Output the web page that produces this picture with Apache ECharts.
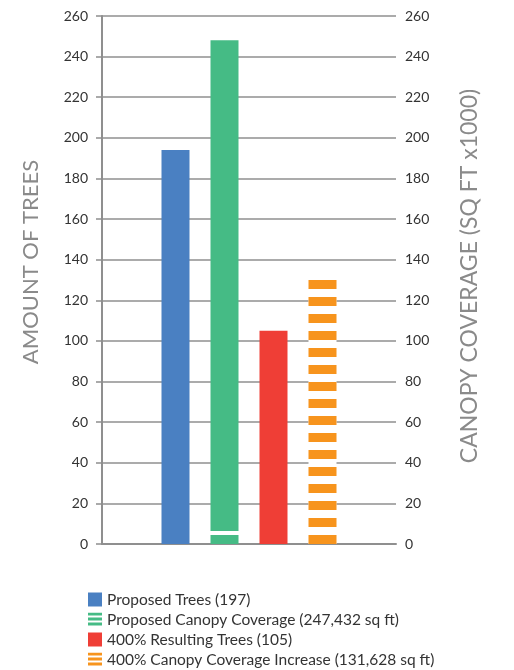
<!DOCTYPE html>
<html>
<head>
<meta charset="utf-8">
<script src="https://cdn.jsdelivr.net/npm/echarts@6/dist/echarts.min.js"></script>
<style>
  html, body { margin: 0; padding: 0; background: #fff; }
  #chart { width: 514px; height: 670px; }
</style>
</head>
<body>
<div id="chart"></div>
<script>
// data
var slots = ['', 'trees', 'canopy', 'trees400', 'canopy400', ''];
var seriesNames = [
    'Proposed Trees (197)',
    'Proposed Canopy Coverage (247,432 sq ft)',
    '400% Resulting Trees (105)',
    '400% Canopy Coverage Increase (131,628 sq ft)'
];
var proposedTrees = [null, 194, null, null, null, null];
var proposedCanopy = [null, null, 248, null, null, null];
var resultingTrees = [null, null, null, 105, null, null];
var canopyIncrease = [null, null, null, null, 132, null];
var tickValues = [0, 260, 20]; // min, max, step

var chart = echarts.init(document.getElementById('chart'));

var axisGray = '#8f8f8f';
var font = 'Lato, "Noto Sans", sans-serif';

function yAxis(name, pos, gap, size, shift) {
    return {
        type: 'value',
        position: pos,
        min: tickValues[0],
        max: tickValues[1],
        interval: tickValues[2],
        name: name,
        nameLocation: 'middle',
        nameGap: gap,
        nameTextStyle: { color: '#8a8a8a', fontSize: size, fontFamily: font, padding: [0, 0, 0, shift] },
        axisLine: { show: pos === 'left', lineStyle: { color: axisGray, width: 2 } },
        axisTick: { show: pos === 'left', length: 6, lineStyle: { color: axisGray, width: 1.5 } },
        axisLabel: { color: '#333', fontSize: 14, fontFamily: font, margin: pos === 'left' ? 14 : 9 },
        splitLine: { show: pos === 'left', lineStyle: { color: axisGray, width: 1.5 } }
    };
}

var stripes = function (color, dy) {
    return { symbol: 'rect', color: color, dashArrayX: [[20, 0]], dashArrayY: dy, symbolSize: 1 };
};

var option = {
    animation: false,
    grid: { left: 102, right: 118, top: 16, bottom: 126 },
    legend: {
        orient: 'vertical',
        left: 88,
        top: 590,
        height: 80,
        padding: 0,
        itemWidth: 14,
        itemHeight: 14,
        itemGap: 1,
        textStyle: { color: '#333', fontSize: 15.5, lineHeight: 19, fontFamily: font },
        data: [
            { name: seriesNames[0], icon: 'rect' },
            { name: seriesNames[1], icon: 'rect', itemStyle: { color: '#fff', decal: stripes('#45bb85', [3, 1.5]) } },
            { name: seriesNames[2], icon: 'rect' },
            { name: seriesNames[3], icon: 'rect', itemStyle: { color: '#fff', decal: stripes('#f7941d', [3, 1.5]) } }
        ]
    },
    xAxis: {
        type: 'category',
        data: slots,
        axisLine: { lineStyle: { color: axisGray, width: 2 } },
        axisTick: { length: 8, lineStyle: { color: axisGray, width: 2 } },
        axisLabel: { show: false }
    },
    yAxis: [
        yAxis('AMOUNT OF TREES', 'left', 60, 22, 36),
        yAxis('CANOPY COVERAGE (SQ FT x1000)', 'right', 62, 23, 8)
    ],
    series: [
        {
            name: seriesNames[0], type: 'bar', yAxisIndex: 0,
            barWidth: 28, barGap: '-100%',
            itemStyle: { color: '#4a80c2' },
            data: proposedTrees
        },
        {
            name: seriesNames[1], type: 'bar', yAxisIndex: 1,
            barWidth: 28, barGap: '-100%',
            itemStyle: {
                color: {
                    type: 'linear', x: 0, y: 0, x2: 0, y2: 1,
                    colorStops: [
                        { offset: 0, color: '#45bb85' },
                        { offset: 0.974, color: '#45bb85' },
                        { offset: 0.974, color: '#ffffff' },
                        { offset: 0.982, color: '#ffffff' },
                        { offset: 0.982, color: '#45bb85' },
                        { offset: 1, color: '#45bb85' }
                    ]
                }
            },
            data: proposedCanopy
        },
        {
            name: seriesNames[2], type: 'bar', yAxisIndex: 0,
            barWidth: 28, barGap: '-100%',
            itemStyle: { color: '#ef3e36' },
            data: resultingTrees
        },
        {
            name: seriesNames[3], type: 'bar', yAxisIndex: 1,
            barWidth: 28, barGap: '-100%',
            itemStyle: { color: '#ffffff', decal: stripes('#f7941d', [0, 8, 9, 0]) },
            data: canopyIncrease
        }
    ]
};

chart.setOption(option);
</script>
</body>
</html>
